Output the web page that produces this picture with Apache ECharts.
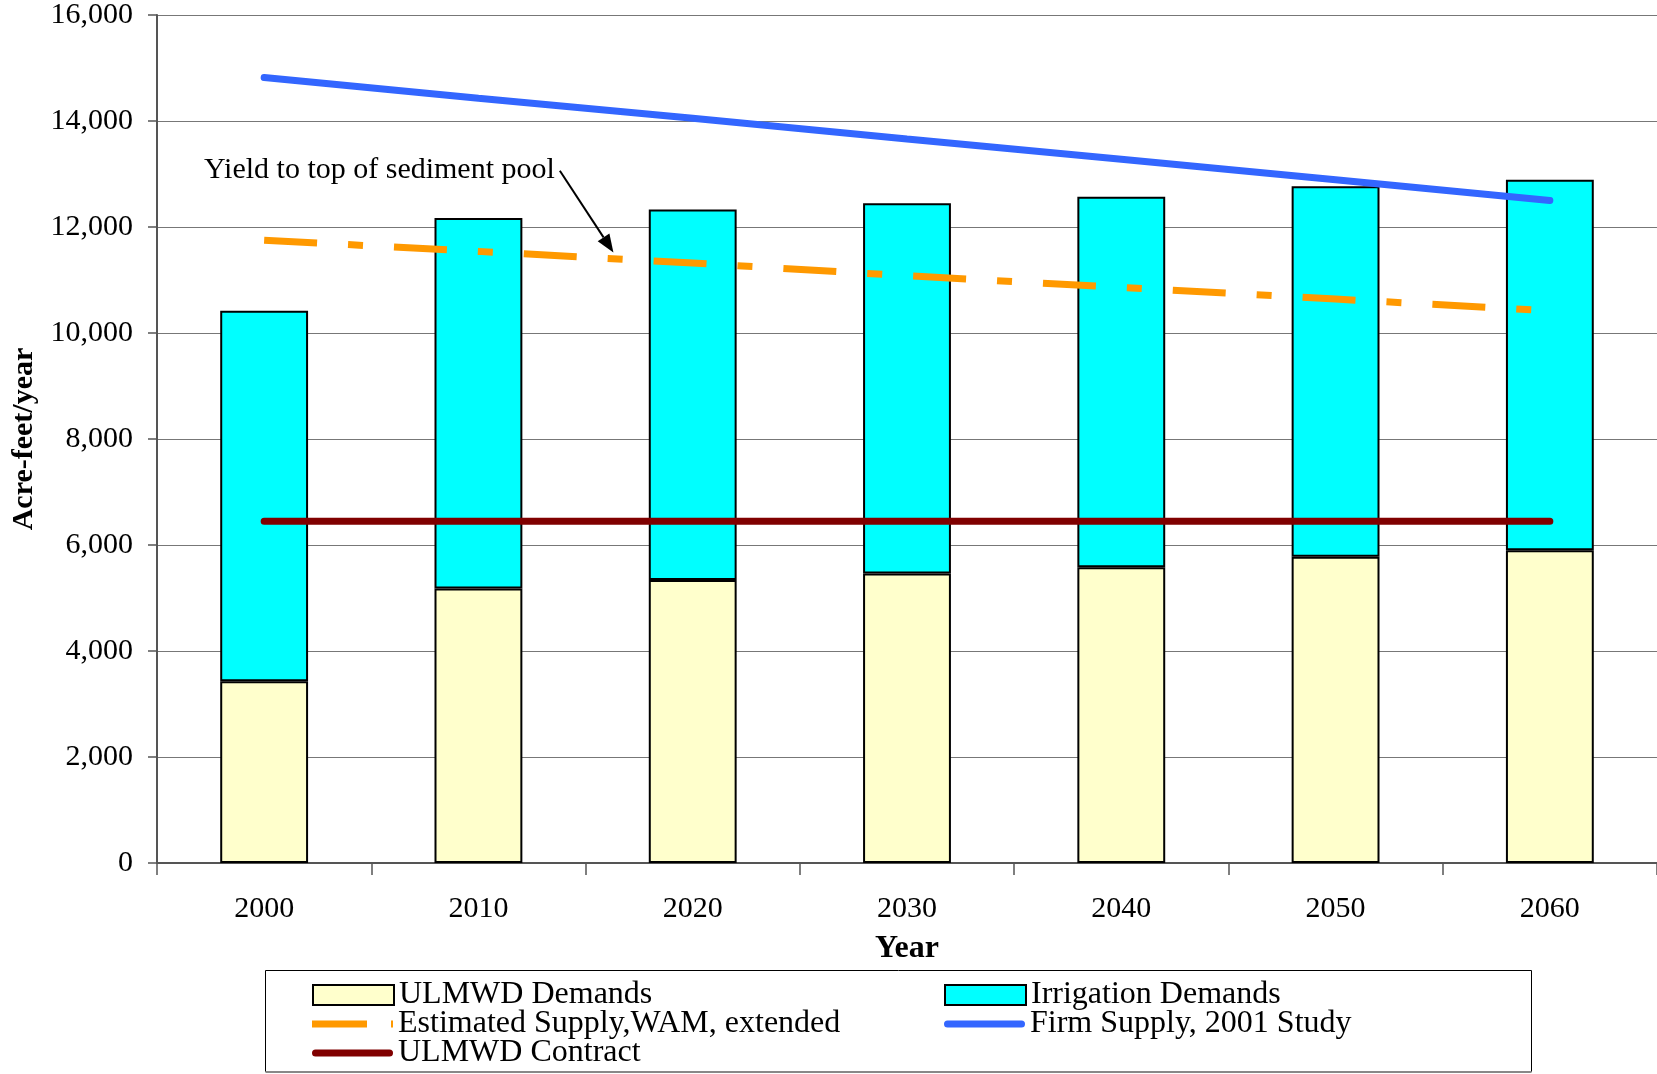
<!DOCTYPE html>
<html>
<head>
<meta charset="utf-8">
<script src="https://cdn.jsdelivr.net/npm/echarts@6/dist/echarts.min.js"></script>
<style>
html,body{margin:0;padding:0;background:#fff;}
#chart{width:1657px;height:1074px;}
</style>
</head>
<body>
<div id="chart"></div>
<script>
// ---- data ----
const years = ['2000','2010','2020','2030','2040','2050','2060'];
const ulmwdDemands = [3430, 5180, 5340, 5460, 5580, 5780, 5900];
const irrigationDemands = [6990, 6990, 6990, 6990, 6990, 6990, 6990];
const estimatedSupply = [11750, 11540, 11320, 11080, 10860, 10640, 10420];
const firmSupply = [14820, 14430, 14050, 13660, 13280, 12890, 12500];
const ulmwdContract = [6450, 6450, 6450, 6450, 6450, 6450, 6450];
const yTicks = { min: 0, max: 16000, interval: 2000 };
const annotationText = 'Yield to top of sediment pool';
// annotation arrow anchors: [category index (fractional), value]
const arrowStart = [1.38, 13060];
const arrowTip = [1.63, 11520];

const FONT = "'Liberation Serif', 'Times New Roman', serif";

const chart = echarts.init(document.getElementById('chart'), null, {renderer: 'canvas'});

function fmt(v){ return String(v).replace(/\B(?=(\d{3})+(?!\d))/g, ','); }

const legendText = { fontFamily: FONT, fontSize: 32, color: '#000', lineHeight: 30 };
const ICON_ROUND = 'path://M3.5,0H77.5A3.5,3.5 0 0 1 77.5,7H3.5A3.5,3.5 0 0 1 3.5,0Z';
const ICON_DASH = 'path://M0,0H55V7H0Z M79,0H81V7H79Z';
function legendAt(name, left, top, icon){
  const item = icon ? { name: name, icon: icon } : { name: name };
  return { data: [item], left: left, top: top, padding: 0, itemWidth: 81, itemHeight: 20,
    itemGap: 0, textStyle: legendText, selectedMode: false };
}

const option = {
  animation: false,
  backgroundColor: '#fff',
  grid: { left: 157, top: 14.5, right: 0, bottom: 211, containLabel: false },
  xAxis: {
    type: 'category',
    data: years,
    name: 'Year',
    nameLocation: 'middle',
    nameGap: 70,
    nameTextStyle: { fontFamily: FONT, fontSize: 32, fontWeight: 'bold', color: '#000' },
    axisLine: { lineStyle: { color: '#555', width: 2 } },
    axisTick: { show: true, length: 12, lineStyle: { color: '#555', width: 1.5 } },
    axisLabel: { fontFamily: FONT, fontSize: 30, color: '#000', margin: 31 },
    splitLine: { show: false }
  },
  yAxis: {
    type: 'value',
    min: yTicks.min, max: yTicks.max, interval: yTicks.interval,
    name: 'Acre-feet/year',
    nameLocation: 'middle',
    nameGap: 117,
    nameRotate: 90,
    nameTextStyle: { fontFamily: FONT, fontSize: 30, fontWeight: 'bold', color: '#000' },
    axisLine: { show: true, lineStyle: { color: '#555', width: 2 } },
    axisTick: { show: true, length: 9, lineStyle: { color: '#555', width: 1.5 } },
    axisLabel: { fontFamily: FONT, fontSize: 30, color: '#000', margin: 24, formatter: fmt },
    splitLine: { show: true, lineStyle: { color: '#777', width: 1 } }
  },
  legend: [
    legendAt('ULMWD Demands', 312, 979, 'rect'),
    legendAt('Irrigation Demands', 944, 979, 'rect'),
    legendAt('Estimated Supply,WAM, extended', 312, 1008, ICON_DASH),
    legendAt('Firm Supply, 2001 Study', 944, 1008, ICON_ROUND),
    legendAt('ULMWD Contract', 312, 1037, ICON_ROUND)
  ],
  series: [
    { name: 'ULMWD Demands', type: 'bar', stack: 'total', data: ulmwdDemands, barWidth: '41%',
      itemStyle: { color: '#FFFFCC', borderColor: '#000', borderWidth: 2 } },
    { name: 'Irrigation Demands', type: 'bar', stack: 'total', data: irrigationDemands, barWidth: '41%',
      itemStyle: { color: '#00FFFF', borderColor: '#000', borderWidth: 2 } },
    { name: 'Estimated Supply,WAM, extended', type: 'line', data: estimatedSupply, symbol: 'none', z: 5,
      lineStyle: { color: '#FF9900', width: 7, type: [53, 31, 15, 31], cap: 'butt' },
      itemStyle: { color: '#FF9900' } },
    { name: 'Firm Supply, 2001 Study', type: 'line', data: firmSupply, symbol: 'none', z: 5,
      lineStyle: { color: '#3366FF', width: 7, cap: 'round' }, itemStyle: { color: '#3366FF' } },
    { name: 'ULMWD Contract', type: 'line', data: ulmwdContract, symbol: 'none', z: 5,
      lineStyle: { color: '#800000', width: 7, cap: 'round' }, itemStyle: { color: '#800000' } }
  ]
};
chart.setOption(option);

// annotation placed via the chart's own scales
function toPx(pt){
  const x0 = chart.convertToPixel({xAxisIndex: 0}, years[0]);
  const x1 = chart.convertToPixel({xAxisIndex: 0}, years[1]);
  const y = chart.convertToPixel({yAxisIndex: 0}, pt[1]);
  return [x0 + (x1 - x0) * pt[0], y];
}
const s = toPx(arrowStart), t = toPx(arrowTip);
const dx = t[0] - s[0], dy = t[1] - s[1], len = Math.sqrt(dx*dx + dy*dy);
const ux = dx / len, uy = dy / len;
const headL = 18, headW = 7;
const bx = t[0] - ux * headL, by = t[1] - uy * headL;
chart.setOption({
  graphic: [
    { type: 'rect', shape: { x: 265.5, y: 970.5, width: 1266, height: 101 },
      style: { fill: 'none', stroke: '#000', lineWidth: 1 }, z: 0, silent: true },
    { type: 'line', shape: { x1: 265.5, y1: 1072, x2: 1531.5, y2: 1072 },
      style: { stroke: '#888', lineWidth: 2 }, silent: true },
    { type: 'text', x: s[0] - 5, y: s[1] - 1,
      style: { text: annotationText, font: "30px 'Liberation Serif', serif", fill: '#000',
        textAlign: 'right', textVerticalAlign: 'middle' }, z: 100 },
    { type: 'line', shape: { x1: s[0], y1: s[1], x2: bx, y2: by },
      style: { stroke: '#000', lineWidth: 2 }, z: 100 },
    { type: 'polygon', shape: { points: [[t[0], t[1]], [bx - uy * headW, by + ux * headW], [bx + uy * headW, by - ux * headW]] },
      style: { fill: '#000' }, z: 100 }
  ]
});
</script>
</body>
</html>
